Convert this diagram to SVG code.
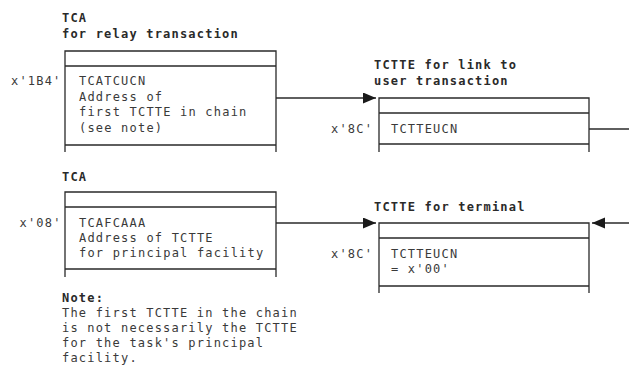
<svg xmlns="http://www.w3.org/2000/svg" width="629" height="368" viewBox="0 0 629 368">
<defs>
<style>
.t{font-family:"DejaVu Sans Mono","Liberation Mono",monospace;font-size:12px;letter-spacing:1.2px;fill:#3a3a3a}
.h{font-family:"DejaVu Sans Mono","Liberation Mono",monospace;font-size:12px;letter-spacing:1.2px;font-weight:bold;fill:#2a2a2a}
.box{fill:none;stroke:#2a2a2a;stroke-width:1.3}
.ln{fill:none;stroke:#2a2a2a;stroke-width:1.3}
</style>
<marker id="ah" markerUnits="userSpaceOnUse" markerWidth="14" markerHeight="12" refX="13" refY="5.5" orient="auto">
<path d="M0,0 L13,5.5 L0,11 Z" fill="#1a1a1a"/>
</marker>
</defs>
<rect width="629" height="368" fill="#fff"/>
<g id="connectors">
<path class="ln" d="M276,98 H376" marker-end="url(#ah)"/>
<path class="ln" d="M276,223 H376" marker-end="url(#ah)"/>
<path class="ln" d="M629,223 H592" marker-end="url(#ah)"/>
<path class="ln" d="M589,129 H629"/>
</g>
<g id="tca-relay">
<text class="h" x="62" y="22">TCA</text>
<text class="h" x="62" y="38">for relay transaction</text>
<path class="box" d="M65,152 V51 H276 V152 M65,66 H276 M65,145 H276"/>
<text class="t" x="11" y="85">x'1B4'</text>
<text class="t" x="79" y="85">TCATCUCN</text>
<text class="t" x="79" y="100.5">Address of</text>
<text class="t" x="79" y="116">first TCTTE in chain</text>
<text class="t" x="79" y="131.5">(see note)</text>
</g>
<g id="tctte-link">
<text class="h" x="374" y="69">TCTTE for link to</text>
<text class="h" x="374" y="85">user transaction</text>
<path class="box" d="M379,152 V98 H589 V152 M379,113 H589 M379,144 H589"/>
<text class="t" x="331" y="133">x'8C'</text>
<text class="t" x="391" y="133">TCTTEUCN</text>
</g>
<g id="tca">
<text class="h" x="62" y="181">TCA</text>
<path class="box" d="M65,277 V192 H276 V277 M65,207 H276 M65,269 H276"/>
<text class="t" x="19.5" y="227">x'08'</text>
<text class="t" x="79" y="227">TCAFCAAA</text>
<text class="t" x="79" y="242">Address of TCTTE</text>
<text class="t" x="79" y="257">for principal facility</text>
</g>
<g id="tctte-terminal">
<text class="h" x="374" y="211">TCTTE for terminal</text>
<path class="box" d="M379,293 V223 H589 V293 M379,238 H589 M379,286 H589"/>
<text class="t" x="331" y="258">x'8C'</text>
<text class="t" x="391" y="258">TCTTEUCN</text>
<text class="t" x="391" y="273">= x'00'</text>
</g>
<g id="note">
<text class="h" x="62" y="302">Note:</text>
<text class="t" x="62" y="317">The first TCTTE in the chain</text>
<text class="t" x="62" y="332">is not necessarily the TCTTE</text>
<text class="t" x="62" y="347">for the task's principal</text>
<text class="t" x="62" y="362">facility.</text>
</g>
</svg>
